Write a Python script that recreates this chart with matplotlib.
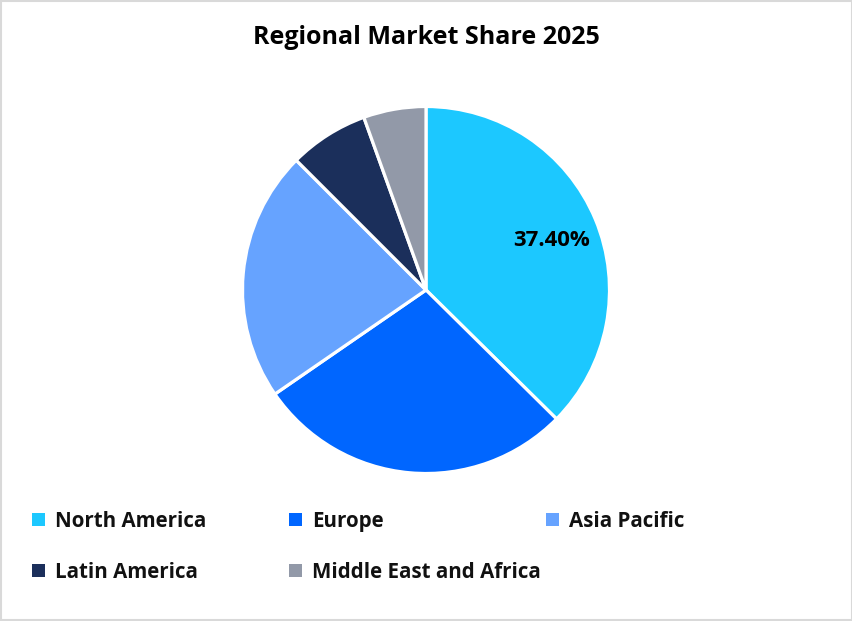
import matplotlib
matplotlib.use('Agg')
import matplotlib.pyplot as plt
from matplotlib.patches import Rectangle

regions = ['North America', 'Europe', 'Asia Pacific', 'Latin America', 'Middle East and Africa']
shares = [37.4, 28.0, 22.1, 7.0, 5.5]
colors = ['#1CC8FF', '#0066FF', '#66A3FF', '#1B2F5B', '#9299A8']

W, H = 853, 621
plt.rcParams['font.family'] = ['Open Sans', 'DejaVu Sans']

fig = plt.figure(figsize=(W / 100, H / 100), dpi=100, facecolor='white')

# pie axes in pixel terms, centre 426,290 radius 183.5
r = 183.5
ax = fig.add_axes([(426 - r) / W, 1 - (290 + r) / H, 2 * r / W, 2 * r / H])
ax.pie(shares, colors=colors, startangle=90, counterclock=False, radius=1,
       wedgeprops={'edgecolor': 'white', 'linewidth': 2.3})
ax.set_xlim(-1, 1)
ax.set_ylim(-1, 1)
ax.text(0.685, 0.27, f'{shares[0]:.2f}%', ha='center', va='center', fontsize=15.9, fontweight='bold', color='black')

fig.text(426 / W, 1 - 37 / H, 'Regional Market Share 2025', ha='center', va='center', fontsize=18, fontweight='bold', color='black')

# legend laid out by hand, two rows of three
leg_x = [32, 289, 546]
leg_y = [513, 564]
for i, name in enumerate(regions):
    x = leg_x[i % 3]
    y = leg_y[i // 3]
    fig.add_artist(Rectangle((x / W, 1 - (y + 13) / H), 13 / W, 13 / H, transform=fig.transFigure, facecolor=colors[i], edgecolor='none'))
    fig.text((x + 23) / W, 1 - (y + 14) / H, name, ha='left', va='baseline', fontsize=14.8, fontweight='bold', color='#111111')

# light frame round the chart
fig.add_artist(Rectangle((1 / W, 1 / H), (W - 2) / W, (H - 2) / H, transform=fig.transFigure, facecolor='none', edgecolor='#D9D9D9', linewidth=1.5))

fig.savefig('out.png', dpi=100)
